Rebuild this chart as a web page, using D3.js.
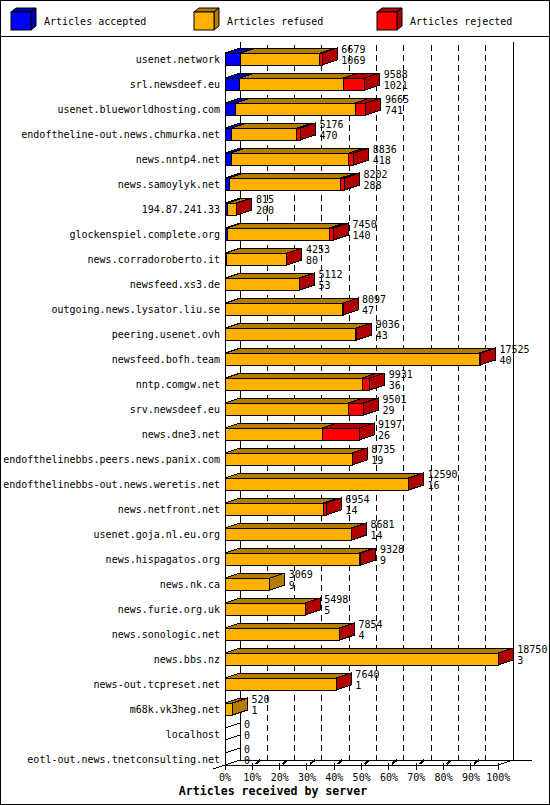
<!DOCTYPE html>
<html>
<head>
<meta charset="utf-8">
<script src="https://cdn.jsdelivr.net/npm/d3@7"></script>
<style>
  body { margin: 0; background: #fff; }
  text { font-family: "DejaVu Sans Mono", monospace; font-size: 10px; fill: #000; }
</style>
</head>
<body>
<svg id="chart" width="550" height="805"></svg>
<script>
"use strict";

const servers = [
  "usenet.network", "srl.newsdeef.eu", "usenet.blueworldhosting.com",
  "endoftheline-out.news.chmurka.net", "news.nntp4.net", "news.samoylyk.net",
  "194.87.241.33", "glockenspiel.complete.org", "news.corradoroberto.it",
  "newsfeed.xs3.de", "outgoing.news.lysator.liu.se", "peering.usenet.ovh",
  "newsfeed.bofh.team", "nntp.comgw.net", "srv.newsdeef.eu", "news.dne3.net",
  "endofthelinebbs.peers.news.panix.com", "endofthelinebbs-out.news.weretis.net",
  "news.netfront.net", "usenet.goja.nl.eu.org", "news.hispagatos.org",
  "news.nk.ca", "news.furie.org.uk", "news.sonologic.net", "news.bbs.nz",
  "news-out.tcpreset.net", "m68k.vk3heg.net", "localhost",
  "eotl-out.news.tnetconsulting.net"
];
const totals = [6679, 9588, 9665, 5176, 8836, 8202, 815, 7450, 4253, 5112, 8097,
  9036, 17525, 9931, 9501, 9197, 8735, 12590, 6954, 8681, 9328, 3069, 5498,
  7854, 18750, 7640, 520, 0, 0];
const accepted = [1069, 1021, 741, 470, 418, 288, 200, 140, 80, 53, 47, 43, 40,
  36, 29, 26, 19, 16, 14, 14, 9, 9, 5, 4, 3, 1, 1, 0, 0];
const refused = [5430, 7097, 8204, 4466, 8068, 7644, 585, 7030, 4163, 5051, 8040,
  8943, 17425, 9385, 8432, 6651, 8706, 12564, 6750, 8657, 9219, 3060, 5488,
  7845, 18737, 7629, 519, 0, 0];
const rejected = [180, 1470, 720, 240, 350, 270, 30, 280, 10, 8, 10, 50, 60, 510,
  1040, 2520, 10, 10, 190, 10, 100, 0, 5, 5, 10, 10, 0, 0, 0];
const pctTicks = [0, 10, 20, 30, 40, 50, 60, 70, 80, 90, 100];
const seriesNames = ["Articles accepted", "Articles refused", "Articles rejected"];
const seriesFront = ["#0000ff", "#ffb000", "#ff0000"];
const seriesDark = ["#0000b0", "#b47d00", "#b00000"];

const svg = d3.select("#chart");
const DX = 15, DY = 5, BAR_H = 12;

function pts(a) { return a.map(p => p.join(",")).join(" "); }

// frame + legend separator
svg.append("rect").attr("x", 0.5).attr("y", 0.5).attr("width", 549).attr("height", 804)
  .attr("fill", "#fff").attr("stroke", "#000");
svg.append("line").attr("x1", 0).attr("x2", 550).attr("y1", 36.5).attr("y2", 36.5)
  .attr("stroke", "#000");

// legend
const legend = svg.append("g").selectAll("g").data(seriesNames).enter().append("g")
  .attr("transform", (d, i) => "translate(" + (11 + i * 183) + ",12)");
legend.append("polygon").attr("points", pts([[0, 0], [20, 0], [25, -4], [5, -4]]))
  .attr("fill", (d, i) => seriesDark[i]).attr("stroke", "#000");
legend.append("polygon").attr("points", pts([[20, 0], [25, -4], [25, 14], [20, 18]]))
  .attr("fill", (d, i) => seriesDark[i]).attr("stroke", "#000");
legend.append("rect").attr("width", 20).attr("height", 18)
  .attr("fill", (d, i) => seriesFront[i]).attr("stroke", "#000");
legend.append("text").attr("x", 33).attr("y", 13).text(d => d);

// scales
const x = d3.scaleLinear().domain([0, 18750]).range([225, 498.3]);
const xp = d3.scaleLinear().domain([0, 100]).range([225, 498.3]);
const y = d3.scaleBand().domain(servers).range([40, 765]);

const plot = svg.append("g").attr("shape-rendering", "crispEdges");

// back wall grid
plot.selectAll(".grid").data(pctTicks.slice(1, -1)).enter().append("line")
  .attr("x1", d => xp(d) + DX).attr("x2", d => xp(d) + DX)
  .attr("y1", 45).attr("y2", 760)
  .attr("stroke", "#000").attr("stroke-dasharray", "6,4");
[0, 100].forEach(d => {
  plot.append("line").attr("x1", xp(d) + DX).attr("x2", xp(d) + DX)
    .attr("y1", 42).attr("y2", 760).attr("stroke", "#000");
});

// floor
plot.append("line").attr("x1", xp(0) + DX).attr("x2", 532).attr("y1", 760).attr("y2", 760)
  .attr("stroke", "#000");
plot.append("line").attr("x1", xp(0)).attr("x2", xp(100)).attr("y1", 765).attr("y2", 765)
  .attr("stroke", "#000");
plot.append("line").attr("x1", xp(0) + DX).attr("y1", 760).attr("x2", 213).attr("y2", 769)
  .attr("stroke", "#000");
plot.append("line").attr("x1", xp(100)).attr("y1", 765).attr("x2", xp(100) + DX).attr("y2", 760)
  .attr("stroke", "#000");
plot.append("line").attr("x1", xp(0)).attr("x2", xp(0)).attr("y1", 53).attr("y2", 765)
  .attr("stroke", "#000");

// ticks
const ticks = plot.selectAll(".tick").data(pctTicks).enter().append("g");
ticks.append("line").attr("x1", d => xp(d)).attr("x2", d => xp(d))
  .attr("y1", 763).attr("y2", 770).attr("stroke", "#000");
ticks.filter(d => d > 0 && d < 100).append("line")
  .attr("x1", d => xp(d) + 3).attr("y1", 764).attr("x2", d => xp(d) + 8).attr("y2", 760)
  .attr("stroke", "#000").attr("stroke-width", 2);
svg.selectAll(".ticklabel").data(pctTicks).enter().append("text")
  .attr("x", d => xp(d)).attr("y", 781).attr("text-anchor", "middle")
  .text(d => d + "%");

svg.append("text").attr("x", 273).attr("y", 795).attr("text-anchor", "middle")
  .style("font-weight", "bold").style("font-size", "11.6px")
  .text("Articles received by server");

// bars
servers.forEach((name, i) => {
  const yT = y(name) + 13;
  const vals = [accepted[i], refused[i], rejected[i]];
  const g = plot.append("g");
  let start = 0, last = 1;
  const segs = [];
  vals.forEach((v, k) => {
    if (v > 0) { segs.push({ k: k, a: start, b: start + v }); last = k; }
    start += v;
  });
  if (segs.length === 0) {
    g.append("polygon")
      .attr("points", pts([[x(0), yT], [x(0) + DX, yT - DY], [x(0) + DX, yT + BAR_H - DY], [x(0), yT + BAR_H]]))
      .attr("fill", "none").attr("stroke", "#000");
  }
  segs.forEach(s => {
    const x0 = x(s.a), x1 = x(s.b);
    g.append("polygon")
      .attr("points", pts([[x0, yT], [x1, yT], [x1 + DX, yT - DY], [x0 + DX, yT - DY]]))
      .attr("fill", seriesDark[s.k]).attr("stroke", "#000");
    g.append("rect").attr("x", x0).attr("y", yT).attr("width", x1 - x0).attr("height", BAR_H)
      .attr("fill", seriesFront[s.k]).attr("stroke", "#000");
  });
  if (segs.length > 0) {
    const xe = x(start);
    g.append("polygon")
      .attr("points", pts([[xe, yT], [xe + DX, yT - DY], [xe + DX, yT + BAR_H - DY], [xe, yT + BAR_H]]))
      .attr("fill", seriesDark[last]).attr("stroke", "#000");
  }
  const xt = x(totals[i]) + 19;
  svg.append("text").attr("x", 220).attr("y", yT + 10).attr("text-anchor", "end").text(name);
  svg.append("text").attr("x", xt).attr("y", yT).text(totals[i]);
  svg.append("text").attr("x", xt).attr("y", yT + 11).text(accepted[i]);
});
</script>
</body>
</html>
